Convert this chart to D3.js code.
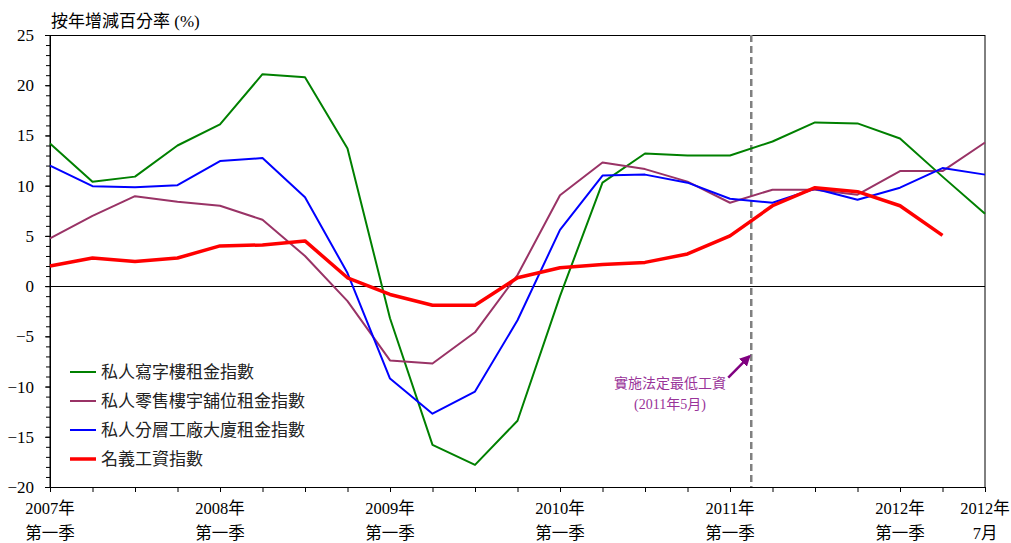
<!DOCTYPE html>
<html>
<head>
<meta charset="utf-8">
<script src="https://cdn.jsdelivr.net/npm/d3@7"></script>
<style>
  body { margin: 0; background: #fff; }
  svg text { font-family: "Liberation Serif", "Noto Sans CJK TC", serif; }
</style>
</head>
<body>
<svg id="chart" width="1011" height="543"></svg>
<script>
// quarterly points 2007Q1 .. 2012Q2, then July 2012
var periods = d3.range(23);
var xLabels = [
  { i: 0,  top: "2007年", bottom: "第一季" },
  { i: 4,  top: "2008年", bottom: "第一季" },
  { i: 8,  top: "2009年", bottom: "第一季" },
  { i: 12, top: "2010年", bottom: "第一季" },
  { i: 16, top: "2011年", bottom: "第一季" },
  { i: 20, top: "2012年", bottom: "第一季" },
  { i: 22, top: "2012年", bottom: "7月" }
];
var yTicks = [-20, -15, -10, -5, 0, 5, 10, 15, 20, 25];

var office = [14.2, 10.4, 10.9, 14.0, 16.1, 21.1, 20.8, 13.7, -3.2, -15.8, -17.8, -13.4,
  -1.0, 10.3, 13.2, 13.0, 13.0, 14.4, 16.3, 16.2, 14.7, 10.9, 7.2];
var retail = [4.75, 7.0, 8.95, 8.4, 8.0, 6.6, 3.0, -1.5, -7.4, -7.7, -4.6, 1.1,
  9.05, 12.3, 11.65, 10.4, 8.3, 9.6, 9.6, 9.1, 11.45, 11.45, 14.3];
var factory = [12.0, 9.95, 9.85, 10.05, 12.45, 12.75, 8.85, 1.3, -9.2, -12.7, -10.5, -3.4,
  5.6, 11.0, 11.1, 10.3, 8.7, 8.3, 9.7, 8.6, 9.8, 11.75, 11.1];
var wages = [2.0, 2.8, 2.45, 2.8, 4.0, 4.1, 4.5, 0.83, -0.83, -1.9, -1.9, 0.83,
  1.83, 2.16, 2.36, 3.2, 5.0, 8.0, 9.8, 9.4, 8.0, 5.05];

var series = [
  { name: "私人寫字樓租金指數", values: office, color: "#008000", width: 2 },
  { name: "私人零售樓宇舖位租金指數", values: retail, color: "#993366", width: 2 },
  { name: "私人分層工廠大廈租金指數", values: factory, color: "#0000ff", width: 2 },
  { name: "名義工資指數", values: wages, color: "#ff0000", width: 3.5 }
];

var minWageAt = 16.5; // May 2011

var svg = d3.select('#chart');
var padL = 50, padR = 985, padT = 35, padB = 487;

var x = d3.scaleLinear().domain([0, 22]).range([padL, padR]);
var y = d3.scaleLinear().domain([-20, 25]).range([padB, padT]);

// frame
svg.append('rect')
  .attr('x', padL).attr('y', padT + 0.5)
  .attr('width', padR - padL).attr('height', padB - padT)
  .attr('fill', 'none').attr('stroke', '#000').attr('stroke-width', 1);

// y axis: minor ticks then major labelled ticks
svg.append('g')
  .attr('transform', `translate(${padL},0)`)
  .call(d3.axisLeft(y).tickValues(d3.range(-20, 26, 1)).tickSize(4).tickFormat(''))
  .call(g => g.select('.domain').remove());
svg.append('g')
  .attr('transform', `translate(${padL},0)`)
  .call(d3.axisLeft(y).tickValues(yTicks).tickSize(5).tickPadding(11))
  .call(g => g.selectAll('text').style('font-size', '17px').attr('fill', '#000'))
  .call(g => g.select('.domain').attr('stroke', '#000'));

// x axis
svg.append('g')
  .attr('transform', `translate(0,${padB})`)
  .call(d3.axisBottom(x).tickValues(periods).tickSize(5).tickFormat(''))
  .call(g => g.select('.domain').attr('stroke', '#000'));

var xl = svg.append('g').selectAll('g').data(xLabels).join('g')
  .attr('transform', d => `translate(${x(d.i)},0)`);
xl.append('text').attr('y', 514).attr('text-anchor', 'middle')
  .style('font-size', '16.5px').text(d => d.top);
xl.append('text').attr('y', 539).attr('text-anchor', 'middle')
  .style('font-size', '16.5px').text(d => d.bottom);

// zero line
svg.append('line')
  .attr('x1', padL).attr('x2', padR)
  .attr('y1', Math.round(y(0)) + 0.5).attr('y2', Math.round(y(0)) + 0.5)
  .attr('stroke', '#000').attr('stroke-width', 1);

// minimum wage marker
svg.append('line')
  .attr('x1', x(minWageAt)).attr('x2', x(minWageAt))
  .attr('y1', padT).attr('y2', padB)
  .attr('stroke', '#808080').attr('stroke-width', 2.5)
  .attr('stroke-dasharray', '7,4');

// series lines
var line = d3.line().x((d, i) => x(i)).y(d => y(d));
svg.append('g').selectAll('path').data(series).join('path')
  .attr('d', d => line(d.values))
  .attr('fill', 'none')
  .attr('stroke', d => d.color)
  .attr('stroke-width', d => d.width)
  .attr('stroke-linejoin', 'round');

// annotation
svg.append('defs').append('marker')
  .attr('id', 'arrow').attr('viewBox', '0 0 10 10')
  .attr('refX', 8).attr('refY', 5)
  .attr('markerWidth', 4.5).attr('markerHeight', 4.5)
  .attr('orient', 'auto')
  .append('path').attr('d', 'M0,0L10,5L0,10z').attr('fill', '#800080');
svg.append('line')
  .attr('x1', x(minWageAt) - 23).attr('y1', y(-9.1))
  .attr('x2', x(minWageAt) - 2).attr('y2', y(-7.0))
  .attr('stroke', '#800080').attr('stroke-width', 2.5)
  .attr('marker-end', 'url(#arrow)');
svg.append('text').attr('x', 670).attr('y', 388).attr('text-anchor', 'middle')
  .attr('fill', '#993399').style('font-size', '14px').text('實施法定最低工資');
svg.append('text').attr('x', 670).attr('y', 409).attr('text-anchor', 'middle')
  .attr('fill', '#993399').style('font-size', '14px').text('(2011年5月)');

// title
svg.append('text').attr('x', 51).attr('y', 27)
  .style('font-size', '17px').text('按年增減百分率 (%)');

// legend
var lg = svg.append('g').selectAll('g').data(series).join('g')
  .attr('transform', (d, i) => `translate(70,${372 + i * 29})`);
lg.append('line').attr('x1', 0).attr('x2', 26)
  .attr('stroke', d => d.color).attr('stroke-width', d => d.width);
lg.append('text').attr('x', 31).attr('y', 6)
  .attr('fill', '#222').style('font-size', '17px').text(d => d.name);
</script>
</body>
</html>
